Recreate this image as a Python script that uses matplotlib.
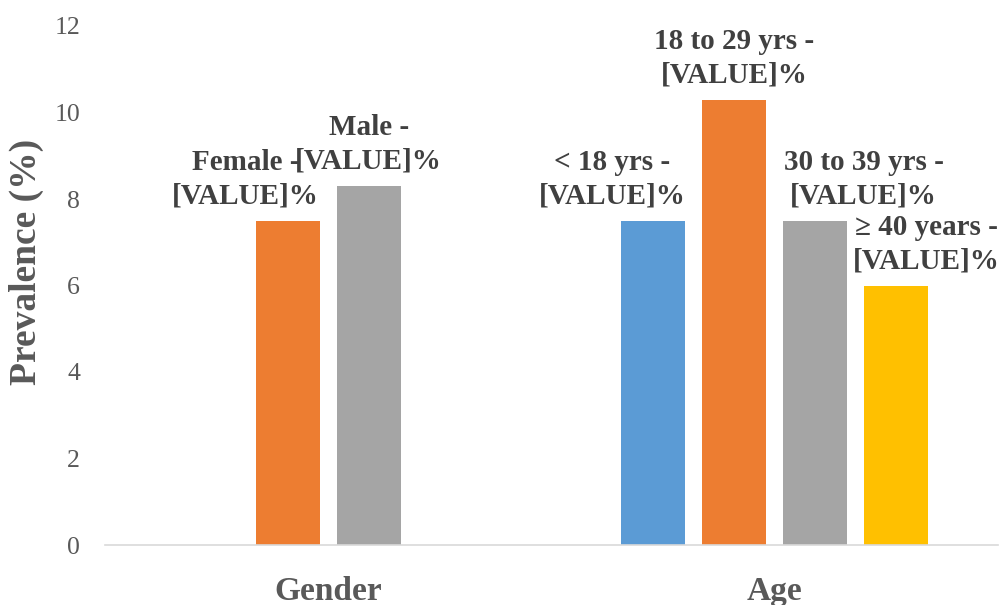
import numpy as np
import matplotlib
matplotlib.use("Agg")
import matplotlib.pyplot as plt

# Prevalence (%) by group; NaN where a series has no bar in that group
groups = ["Gender", "Age"]
series_names = [
    ["", "< 18 yrs"],
    ["Female", "18 to 29 yrs"],
    ["Male", "30 to 39 yrs"],
    ["", "\u2265 40 years"],
]
series_values = [
    [np.nan, 7.5],
    [7.5, 10.3],
    [8.3, 7.5],
    [np.nan, 6.0],
]
series_colors = ["#5B9BD5", "#ED7D31", "#A5A5A5", "#FFC000"]

# horizontal nudges for the data labels (data units), same layout as the arrays above
label_shift = [
    [0.0, -0.092],
    [-0.094, 0.0],
    [0.0, 0.108],
    [0.0, 0.067],
]

plt.rcParams["font.family"] = ["Liberation Serif", "DejaVu Serif"]

fig = plt.figure(figsize=(10.01, 6.05), dpi=100)
ax = fig.add_axes([105 / 1001, 60 / 605, 893 / 1001, 519 / 605])

x = np.arange(len(groups))
step = 0.1816
width = 0.1435
offsets = (np.arange(4) - 1.5) * step

for i in range(4):
    bars = ax.bar(x + offsets[i], series_values[i], width=width,
                  color=series_colors[i], zorder=2)
    for j, b in enumerate(bars):
        v = series_values[i][j]
        if np.isnan(v):
            continue
        ax.annotate(f"{series_names[i][j]} -\n[VALUE]%",
                    xy=(b.get_x() + b.get_width() / 2 + label_shift[i][j], v),
                    xytext=(0, 8), textcoords="offset points",
                    ha="center", va="bottom", fontsize=21,
                    fontweight="bold", color="#404040", linespacing=1.32,
                    zorder=3)

ax.set_xlim(-0.5, 1.5)
ax.set_ylim(0, 12)
ax.set_yticks(range(0, 13, 2))
ax.set_xticks(x)
ax.set_xticklabels(groups, fontsize=24, fontweight="bold", color="#595959")
ax.tick_params(axis="x", length=0, pad=22)
ax.tick_params(axis="y", length=0, pad=18, labelsize=18.5, labelcolor="#595959")

for side in ["top", "right", "left"]:
    ax.spines[side].set_visible(False)
ax.spines["bottom"].set_color("#D9D9D9")
ax.spines["bottom"].set_linewidth(1.2)

ax.set_ylabel("Prevalence (%)", fontsize=27, fontweight="bold",
              color="#595959", va="center")
ax.yaxis.set_label_coords(-0.088, 0.545)

fig.savefig("out.png", dpi=100)
